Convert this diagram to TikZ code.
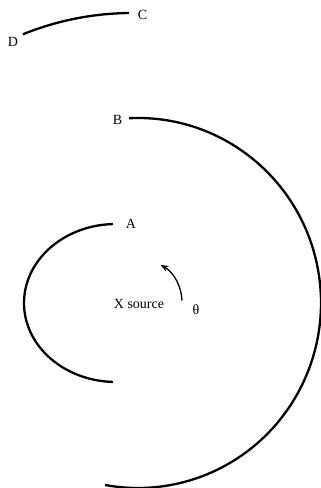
\documentclass[tikz,border=0pt]{standalone}
\usepackage{fontspec}
\setmainfont{Liberation Serif}
\usetikzlibrary{arrows.meta}
\begin{document}
\begin{tikzpicture}[x=1pt,y=1pt,
  wave/.style={line width=2.3pt},
  lbl/.style={inner sep=0pt,anchor=base,font=\fontsize{14}{17}\selectfont},
  rot/.style={line width=1.3pt,-{Stealth[length=8pt,width=6pt]}}]
\useasboundingbox (0,0) rectangle (321,488);
% labels (y-up: Y = 488 - screen y)
\node[lbl] (C) at (142.5,468) {C};
\node[lbl] (D) at (13,441) {D};
\node[lbl] (B) at (117.5,363) {B};
\node[lbl] (A) at (131,259) {A};
\node[lbl] (X) at (139,179) {X source};
\node[lbl] (T) at (196,173) {θ};
% arc endpoints
\coordinate (cstart) at ({132+290*cos(90.6)},{185+290*sin(90.6)});
\coordinate (bstart) at ({138+183*cos(92.8)},{185+185*sin(92.8)});
\coordinate (astart) at ({116+92*cos(92)},{185+79*sin(92)});
\coordinate (rstart) at ({139+43*cos(2)},{186+43*sin(2)});
% arcs
\draw[wave] (cstart) arc[start angle=90.6,end angle=112.1,radius=290pt];
\draw[wave] (bstart) arc[start angle=92.8,end angle=-100.4,x radius=183pt,y radius=185pt];
\draw[wave] (astart) arc[start angle=92,end angle=268,x radius=92pt,y radius=79pt];
% rotation arrow
\draw[rot] (rstart) arc[start angle=2,end angle=60,radius=43pt];
\end{tikzpicture}
\end{document}
